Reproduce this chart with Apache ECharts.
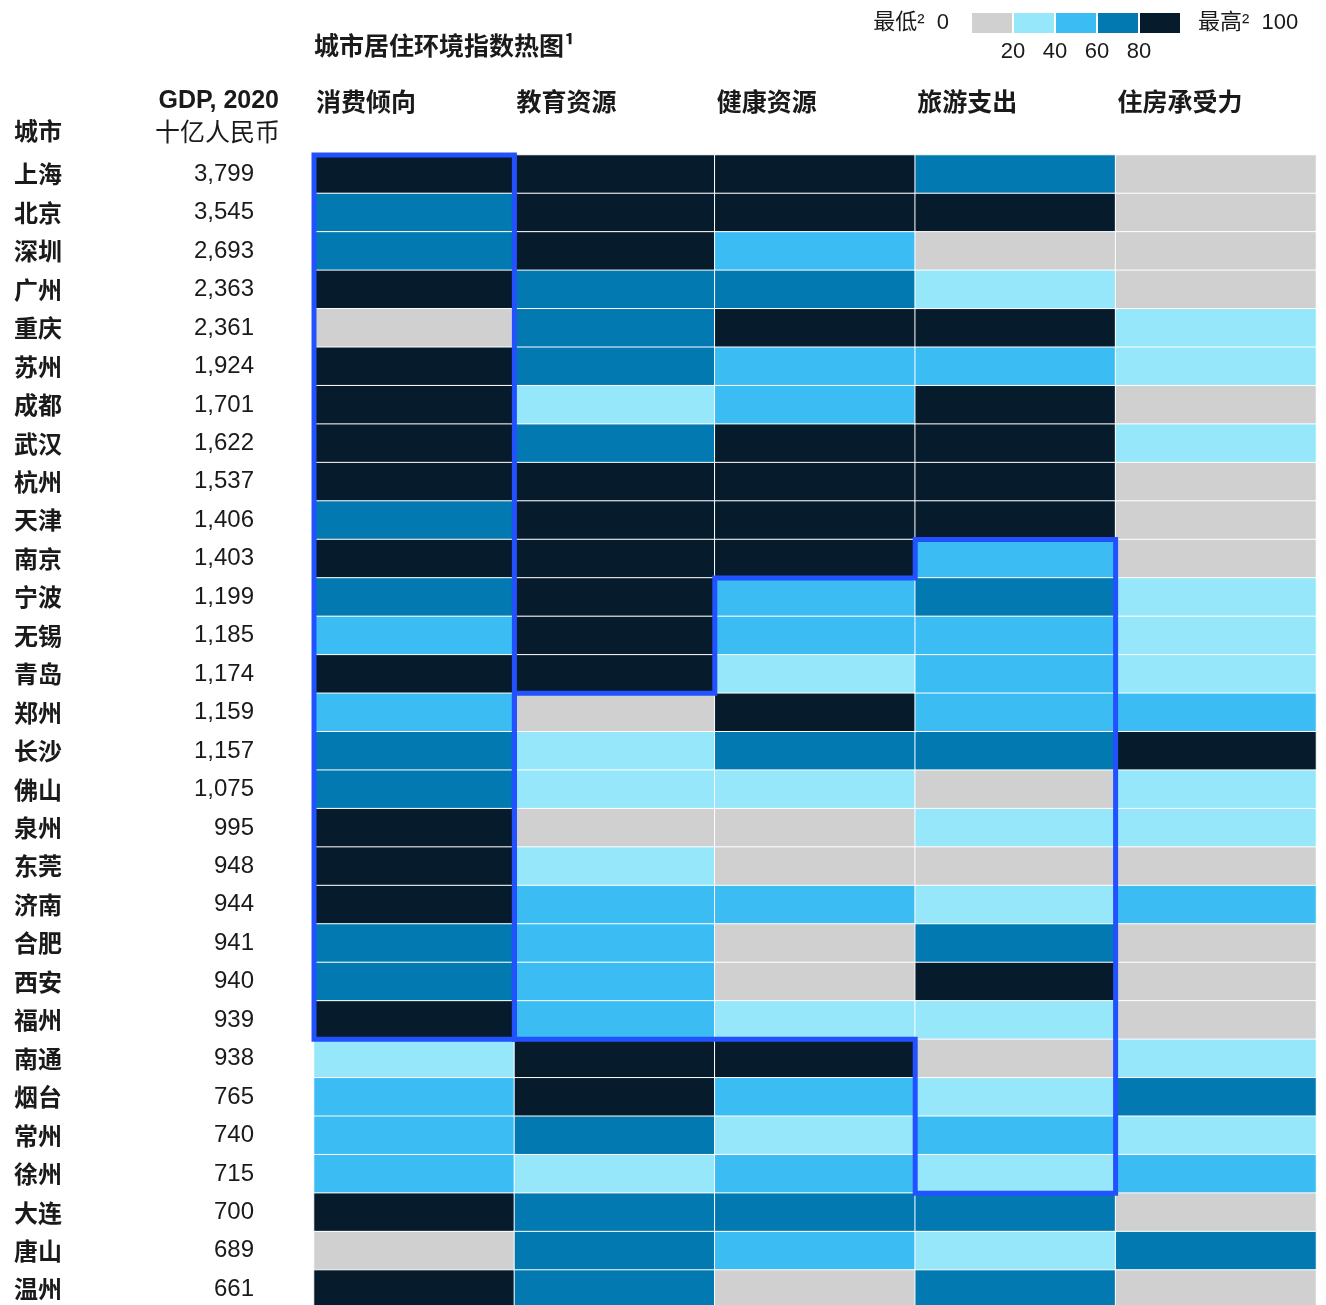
<!DOCTYPE html>
<html>
<head>
<meta charset="utf-8">
<script src="https://cdn.jsdelivr.net/npm/echarts@6/dist/echarts.min.js"></script>
<style>
  html, body { margin: 0; padding: 0; background: #fff; }
  #myChart { width: 1326px; height: 1305px; }
</style>
</head>
<body>
<div id="myChart"></div>
<script>
// 城市
var cities = ["上海", "北京", "深圳", "广州", "重庆", "苏州", "成都", "武汉", "杭州", "天津",
  "南京", "宁波", "无锡", "青岛", "郑州", "长沙", "佛山", "泉州", "东莞", "济南",
  "合肥", "西安", "福州", "南通", "烟台", "常州", "徐州", "大连", "唐山", "温州"];
// GDP, 2020 十亿人民币
var gdp = [3799, 3545, 2693, 2363, 2361, 1924, 1701, 1622, 1537, 1406,
  1403, 1199, 1185, 1174, 1159, 1157, 1075, 995, 948, 944,
  941, 940, 939, 938, 765, 740, 715, 700, 689, 661];
var columns = ["消费倾向", "教育资源", "健康资源", "旅游支出", "住房承受力"];

// 指数 (0-100)
var consumption = [90, 70, 70, 90, 10, 90, 90, 90, 90, 70, 90, 70, 50, 90, 50, 70, 70, 90, 90, 90, 70, 70, 90, 30, 50, 50, 50, 90, 10, 90];
var education = [90, 90, 90, 70, 70, 70, 30, 70, 90, 90, 90, 90, 90, 90, 10, 30, 30, 10, 30, 50, 50, 50, 50, 90, 90, 70, 30, 70, 70, 70];
var health = [90, 90, 50, 70, 90, 50, 50, 90, 90, 90, 90, 50, 50, 30, 90, 70, 30, 10, 10, 50, 10, 10, 30, 90, 50, 30, 50, 70, 50, 10];
var tourism = [70, 90, 10, 30, 90, 50, 90, 90, 90, 90, 50, 70, 50, 50, 50, 70, 10, 30, 10, 30, 70, 90, 30, 10, 30, 50, 30, 70, 30, 70];
var housing = [10, 10, 10, 10, 30, 30, 10, 30, 10, 10, 10, 30, 30, 30, 50, 90, 30, 30, 10, 50, 10, 10, 10, 30, 70, 30, 50, 10, 70, 10];

// 图例刻度
var legendTicks = [20, 40, 60, 80];
var colors = ["#d0d0d0", "#96e7fa", "#3bbdf3", "#0279b1", "#061c2d"];

// 高亮框 (单元格边界: [列, 行])
var outlineA = [[0, 0], [1, 0], [1, 23], [0, 23]];
var outlineB = [[1, 14], [2, 14], [2, 11], [3, 11], [3, 10], [4, 10], [4, 27], [3, 27], [3, 23], [1, 23]];
var outlines = [outlineA, outlineB];

var allCols = [consumption, education, health, tourism, housing];
var heatData = [];
allCols.forEach(function (col, x) {
  col.forEach(function (v, y) {
    heatData.push([x, y, v]);
  });
});

var textColor = "#1a1a1a";
var cjk = '"Noto Sans CJK SC"';
var sans = '"Liberation Sans", "Noto Sans CJK SC"';

var pieces = [];
for (var i = 0; i < 5; i++) {
  pieces.push({ gte: i * 20, lt: i * 20 + 20, color: colors[i] });
}
pieces[4].lte = 100;
delete pieces[4].lt;

var legendLeft = 972;
var graphicTexts = [
  { type: "text", x: 14, y: 131, style: { text: "城市", font: "bold 24px " + cjk, fill: textColor, align: "left", verticalAlign: "middle" } },
  { type: "text", x: 279, y: 101, style: { text: "GDP, 2020", font: "bold 25px " + sans, fill: textColor, align: "right", verticalAlign: "middle" } },
  { type: "text", x: 280, y: 131, style: { text: "十亿人民币", font: "25px " + cjk, fill: textColor, align: "right", verticalAlign: "middle" } },
  { type: "text", x: 949, y: 23, style: { text: "最低²  0", font: "22px " + sans, fill: textColor, align: "right", verticalAlign: "middle" } },
  { type: "text", x: 1198, y: 23, style: { text: "最高²  100", font: "22px " + sans, fill: textColor, align: "left", verticalAlign: "middle" } }
];
legendTicks.forEach(function (t, i) {
  graphicTexts.push({
    type: "text", x: legendLeft + (i + 1) * 42 - 1, y: 52,
    style: { text: String(t), font: "22px " + sans, fill: textColor, align: "center", verticalAlign: "middle" }
  });
});

var myChart = echarts.init(document.getElementById("myChart"));
var option = {
  animation: false,
  title: {
    text: "城市居住环境指数热图¹",
    left: 314,
    top: 33,
    padding: 0,
    textStyle: { fontFamily: cjk, fontWeight: "bold", fontSize: 25, color: textColor }
  },
  graphic: graphicTexts,
  visualMap: {
    type: "piecewise",
    seriesIndex: 0,
    orient: "horizontal",
    left: legendLeft,
    top: 13,
    padding: 0,
    itemWidth: 40,
    itemHeight: 20,
    itemGap: 2,
    itemSymbol: "rect",
    showLabel: false,
    selectedMode: false,
    hoverLink: false,
    pieces: pieces
  },
  grid: {
    left: 314,
    right: 10,
    top: 155,
    height: 1153.5,
    outerBoundsMode: "none"
  },
  xAxis: [
    {
      type: "category",
      data: columns,
      axisLine: { show: false },
      axisTick: { show: false },
      axisLabel: { show: false },
      splitLine: { show: false }
    },
    {
      type: "value",
      position: "top",
      min: 0,
      max: 5,
      interval: 1,
      axisLine: { show: false },
      axisTick: { show: false },
      splitLine: { show: false },
      axisLabel: {
        margin: 54,
        align: "left",
        verticalAlign: "middle",
        padding: [0, 0, 0, 2],
        fontFamily: cjk,
        fontWeight: "bold",
        fontSize: 25,
        color: textColor,
        formatter: function (v) { return columns[v] || ""; }
      }
    }
  ],
  yAxis: [
    {
      type: "category",
      data: cities,
      inverse: true,
      axisLine: { show: false },
      axisTick: { show: false },
      axisLabel: {
        align: "left",
        margin: 300,
        fontFamily: cjk,
        fontWeight: "bold",
        fontSize: 24,
        color: textColor
      }
    },
    {
      type: "category",
      data: cities,
      inverse: true,
      position: "left",
      axisLine: { show: false },
      axisTick: { show: false },
      axisLabel: {
        align: "right",
        margin: 60,
        fontFamily: sans,
        fontSize: 24,
        color: textColor,
        formatter: function (v, idx) { return gdp[idx].toLocaleString("en-US"); }
      }
    }
  ],
  series: [
    {
      type: "heatmap",
      data: heatData,
      itemStyle: { borderColor: "#fff", borderWidth: 1 },
      emphasis: { disabled: true }
    },
    {
      type: "custom",
      clip: false,
      silent: true,
      z: 10,
      data: outlines.map(function (o, i) { return [0, 0, i]; }),
      renderItem: function (params, api) {
        var shape = outlines[params.dataIndex];
        var c0 = api.coord([0, 0]);
        var c1 = api.coord([1, 1]);
        var bw = c1[0] - c0[0];
        var bh = c1[1] - c0[1];
        var x0 = c0[0] - bw / 2;
        var y0 = c0[1] - bh / 2;
        var pts = shape.map(function (p) { return [x0 + p[0] * bw, y0 + p[1] * bh]; });
        return {
          type: "polygon",
          shape: { points: pts },
          style: { fill: "none", stroke: "#2252ff", lineWidth: 5, lineJoin: "miter" }
        };
      }
    }
  ]
};
window.onresize = myChart.resize;
myChart.setOption(option);
</script>
</body>
</html>
